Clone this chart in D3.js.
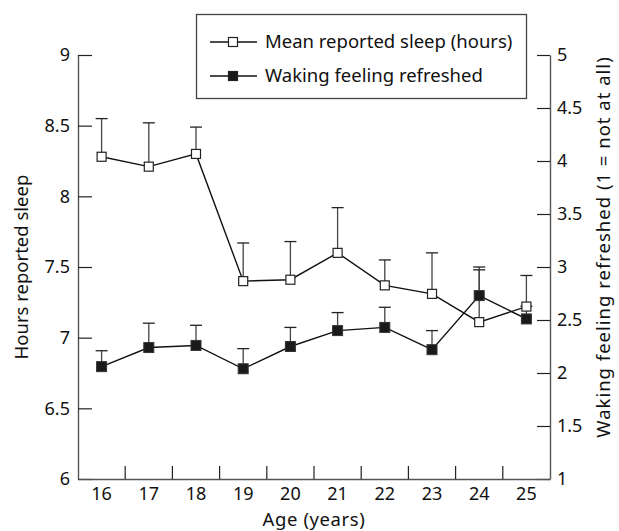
<!DOCTYPE html>
<html>
<head>
<meta charset="utf-8">
<script src="https://cdn.jsdelivr.net/npm/d3@7"></script>
<style>
  body { margin: 0; background: #fff; }
  svg text { font-family: "Noto Sans", sans-serif; fill: #111; }
</style>
</head>
<body>
<div id="chart"></div>
<script>
// values
const ages = [16, 17, 18, 19, 20, 21, 22, 23, 24, 25]
const sleepHours = [8.28, 8.21, 8.30, 7.40, 7.41, 7.60, 7.37, 7.31, 7.11, 7.22]
const sleepUpper = [8.55, 8.52, 8.49, 7.67, 7.68, 7.92, 7.55, 7.60, 7.48, 7.44]
const refreshed = [2.06, 2.24, 2.26, 2.04, 2.25, 2.40, 2.43, 2.22, 2.73, 2.51]
const refreshedUpper = [2.21, 2.47, 2.45, 2.23, 2.43, 2.57, 2.62, 2.40, 3.00, 2.63]
const leftTicks = [6, 6.5, 7, 7.5, 8, 8.5, 9]
const rightTicks = [1, 1.5, 2, 2.5, 3, 3.5, 4, 4.5, 5]
const legendLabels = ['Mean reported sleep (hours)', 'Waking feeling refreshed']

const width = 619
const height = 531
const plotLeft = 78, plotRight = 550, plotTop = 55, plotBottom = 479

const svg = d3.select('#chart')
  .append('svg')
  .attr('width', width)
  .attr('height', height)

const x = d3.scaleBand()
  .domain(ages)
  .range([plotLeft, plotRight])
  .padding(0)

const yLeft = d3.scaleLinear()
  .domain([6, 9])
  .range([plotBottom, plotTop])

const yRight = d3.scaleLinear()
  .domain([1, 5])
  .range([plotBottom, plotTop])

const cx = d => x(d) + x.bandwidth() / 2

// left axis
const leftAxis = svg.append('g')
  .attr('transform', `translate(${plotLeft},0)`)
  .call(d3.axisLeft(yLeft).tickValues(leftTicks).tickSize(-14).tickSizeOuter(0).tickPadding(8).tickFormat(d => String(d)))
leftAxis.selectAll('text').style('font-size', '18px')

// right axis
const rightAxis = svg.append('g')
  .attr('transform', `translate(${plotRight},0)`)
  .call(d3.axisRight(yRight).tickValues(rightTicks).tickSize(-13).tickSizeOuter(0).tickPadding(7).tickFormat(d => String(d)))
rightAxis.selectAll('text').style('font-size', '18px')

// bottom axis: labels in band centres, ticks on the band edges
const bottomAxis = svg.append('g')
  .attr('transform', `translate(0,${plotBottom})`)
  .call(d3.axisBottom(x).tickSize(0).tickSizeOuter(0).tickPadding(8))
bottomAxis.selectAll('text').style('font-size', '18px')

svg.selectAll('.xtick')
  .data(ages.slice(1))
  .enter()
  .append('line')
  .attr('class', 'xtick')
  .attr('x1', d => x(d))
  .attr('x2', d => x(d))
  .attr('y1', plotBottom)
  .attr('y2', plotBottom - 13)
  .attr('stroke', '#222')
  .attr('stroke-width', 1.2)

svg.selectAll('.domain').attr('stroke', '#555').attr('stroke-width', 1.4)
svg.selectAll('.tick line').attr('stroke', '#222').attr('stroke-width', 1.2)

// axis titles
svg.append('text')
  .attr('transform', 'translate(28,267) rotate(-90)')
  .attr('text-anchor', 'middle')
  .style('font-size', '18.5px')
  .text('Hours reported sleep')

svg.append('text')
  .attr('transform', 'translate(610,247) rotate(-90)')
  .attr('text-anchor', 'middle')
  .style('font-size', '18.5px')
  .style('letter-spacing', '1px')
  .text('Waking feeling refreshed (1 = not at all)')

svg.append('text')
  .attr('x', 314)
  .attr('y', 526)
  .attr('text-anchor', 'middle')
  .style('font-size', '18.5px')
  .style('letter-spacing', '0.6px')
  .text('Age (years)')

// error bars (upper only)
function errorBars(values, upper, scale) {
  const g = svg.append('g')
  g.selectAll('line.stem')
    .data(ages)
    .enter()
    .append('line')
    .attr('class', 'stem')
    .attr('x1', d => cx(d))
    .attr('x2', d => cx(d))
    .attr('y1', (d, i) => scale(values[i]))
    .attr('y2', (d, i) => scale(upper[i]))
    .attr('stroke', '#444')
    .attr('stroke-width', 1.3)
  g.selectAll('line.cap')
    .data(ages)
    .enter()
    .append('line')
    .attr('class', 'cap')
    .attr('x1', d => cx(d) - 6)
    .attr('x2', d => cx(d) + 6)
    .attr('y1', (d, i) => scale(upper[i]))
    .attr('y2', (d, i) => scale(upper[i]))
    .attr('stroke', '#222')
    .attr('stroke-width', 1.3)
}
errorBars(refreshed, refreshedUpper, yRight)
errorBars(sleepHours, sleepUpper, yLeft)

// lines
const refreshedLine = d3.line()
  .x((d, i) => cx(ages[i]))
  .y(d => yRight(d))
const sleepLine = d3.line()
  .x((d, i) => cx(ages[i]))
  .y(d => yLeft(d))

svg.append('path')
  .attr('d', refreshedLine(refreshed))
  .attr('fill', 'none')
  .attr('stroke', '#111')
  .attr('stroke-width', 1.4)
svg.append('path')
  .attr('d', sleepLine(sleepHours))
  .attr('fill', 'none')
  .attr('stroke', '#111')
  .attr('stroke-width', 1.4)

// markers
const ms = 10
svg.selectAll('rect.refreshed')
  .data(refreshed)
  .enter()
  .append('rect')
  .attr('class', 'refreshed')
  .attr('x', (d, i) => cx(ages[i]) - ms / 2)
  .attr('y', d => yRight(d) - ms / 2)
  .attr('width', ms)
  .attr('height', ms)
  .attr('fill', '#1a1a1a')
  .attr('stroke', '#333')
  .attr('stroke-width', 1)

svg.selectAll('rect.sleep')
  .data(sleepHours)
  .enter()
  .append('rect')
  .attr('class', 'sleep')
  .attr('x', (d, i) => cx(ages[i]) - ms / 2 + 0.5)
  .attr('y', d => yLeft(d) - ms / 2 + 0.5)
  .attr('width', ms - 1)
  .attr('height', ms - 1)
  .attr('fill', '#fff')
  .attr('stroke', '#222')
  .attr('stroke-width', 1.2)

// legend
const legend = svg.append('g')
legend.append('rect')
  .attr('x', 196.5)
  .attr('y', 14.5)
  .attr('width', 330)
  .attr('height', 84)
  .attr('fill', '#fff')
  .attr('stroke', '#444')
  .attr('stroke-width', 1.3)

const rows = legend.selectAll('g.row')
  .data(legendLabels)
  .enter()
  .append('g')
  .attr('class', 'row')
  .attr('transform', (d, i) => `translate(0,${42 + i * 34})`)

rows.append('line')
  .attr('x1', 210)
  .attr('x2', 257)
  .attr('stroke', '#111')
  .attr('stroke-width', 1.4)

rows.append('rect')
  .attr('x', 228.5)
  .attr('y', -4.5)
  .attr('width', 9)
  .attr('height', 9)
  .attr('fill', (d, i) => i === 0 ? '#fff' : '#1a1a1a')
  .attr('stroke', '#222')
  .attr('stroke-width', 1.2)

rows.append('text')
  .attr('x', 265)
  .attr('y', 6)
  .style('font-size', '18.5px')
  .text(d => d)
</script>
</body>
</html>
